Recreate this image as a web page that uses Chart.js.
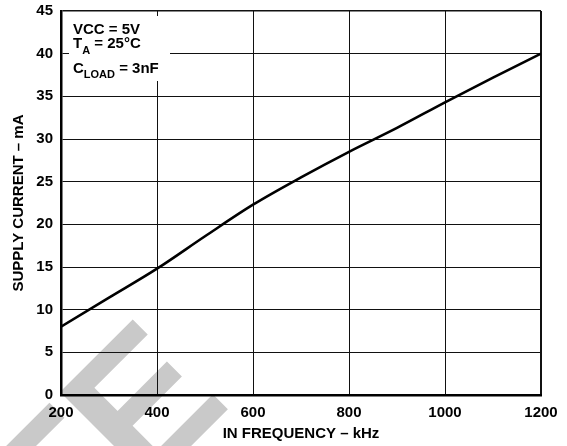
<!DOCTYPE html>
<html>
<head>
<meta charset="utf-8">
<script src="https://cdn.jsdelivr.net/npm/chart.js@4/dist/chart.umd.min.js"></script>
<style>
  html, body { margin: 0; padding: 0; background: #fff; }
  #wrap { width: 567px; height: 446px; }
</style>
</head>
<body>
<div id="wrap"><canvas id="myChart" width="567" height="446"></canvas></div>
<script>
const freqKHz = [200, 300, 400, 500, 600, 700, 800, 900, 1000, 1100, 1200];
const supplyCurrent = [8.0, 11.4, 14.8, 18.6, 22.3, 25.5, 28.5, 31.3, 34.3, 37.2, 40.0];
const xTicks = [200, 400, 600, 800, 1000, 1200];
const yTicks = [0, 5, 10, 15, 20, 25, 30, 35, 40, 45];
const watermarkText = "TE";

const FONT = "'Liberation Sans', Arial, Helvetica, sans-serif";

// big grey watermark behind the grid
const watermark = {
    id: 'watermark',
    beforeDraw(chart) {
        const ctx = chart.ctx;
        ctx.save();
        ctx.translate(233, 404);
        ctx.rotate(-Math.PI / 4);
        ctx.fillStyle = '#c9c9c9';
        ctx.font = "bold 190px " + FONT;
        ctx.textAlign = 'right';
        ctx.textBaseline = 'alphabetic';
        ctx.fillText(watermarkText, 0, 0);
        ctx.restore();
    }
};

// conditions box in the top-left corner
const conditions = {
    id: 'conditions',
    afterDraw(chart) {
        const ctx = chart.ctx;
        ctx.save();
        ctx.fillStyle = '#fff';
        ctx.fillRect(69, 16, 101, 65);
        ctx.fillStyle = '#000';
        ctx.textBaseline = 'alphabetic';
        ctx.textAlign = 'left';
        const big = "bold 15px " + FONT;
        const small = "bold 11px " + FONT;

        ctx.font = big;
        ctx.fillText("VCC = 5V", 73, 33.5);

        let x = 73;
        ctx.fillText("T", x, 48);
        x += ctx.measureText("T").width;
        ctx.font = small;
        ctx.fillText("A", x, 54);
        x += ctx.measureText("A").width;
        ctx.font = big;
        ctx.fillText(" = 25°C", x, 48);

        x = 73;
        ctx.fillText("C", x, 73);
        x += ctx.measureText("C").width;
        ctx.font = small;
        ctx.fillText("LOAD", x, 78);
        x += ctx.measureText("LOAD").width;
        ctx.font = big;
        ctx.fillText(" = 3nF", x, 73);
        ctx.restore();
    }
};

const ctx = document.getElementById('myChart').getContext('2d');
new Chart(ctx, {
    type: 'line',
    data: {
        datasets: [{
            data: freqKHz.map((f, i) => ({ x: f, y: supplyCurrent[i] })),
            borderColor: '#000',
            borderWidth: 2.6,
            pointRadius: 0,
            cubicInterpolationMode: 'monotone',
            fill: false,
        }]
    },
    options: {
        responsive: false,
        animation: false,
        events: [],
        layout: { padding: { left: 0, top: 11, right: 26, bottom: 0 } },
        plugins: {
            legend: { display: false },
            tooltip: { enabled: false },
        },
        scales: {
            x: {
                type: 'linear',
                min: 200,
                max: 1200,
                afterBuildTicks: (axis) => { axis.ticks = xTicks.map(v => ({ value: v })); },
                afterFit: (axis) => {
                    axis.height = 51;
                    axis.paddingLeft = 0;
                    axis.paddingRight = 0;
                },
                ticks: {
                    color: '#000',
                    padding: 9,
                    maxRotation: 0,
                    callback: (v) => String(v),
                    font: { family: FONT, size: 15, weight: 'bold' },
                },
                grid: {
                    color: '#111',
                    lineWidth: (c) => (c.tick && c.tick.value === 1200 ? 2 : 1),
                    drawTicks: false,
                },
                border: { color: '#000', width: 2.5 },
                title: {
                    display: true,
                    text: 'IN FREQUENCY – kHz',
                    color: '#000',
                    font: { family: FONT, size: 15, weight: 'bold' },
                    padding: { top: 0, bottom: 3 },
                },
            },
            y: {
                min: 0,
                max: 45,
                afterBuildTicks: (axis) => { axis.ticks = yTicks.map(v => ({ value: v })); },
                afterFit: (axis) => {
                    axis.width = 61;
                    axis.paddingTop = 0;
                    axis.paddingBottom = 0;
                },
                ticks: {
                    color: '#000',
                    padding: 8,
                    callback: (v) => String(v),
                    font: { family: FONT, size: 15, weight: 'bold' },
                },
                grid: {
                    color: '#111',
                    lineWidth: (c) => (c.tick && c.tick.value === 45 ? 1.5 : 1),
                    drawTicks: false,
                },
                border: { color: '#000', width: 2.5 },
                title: {
                    display: true,
                    text: 'SUPPLY CURRENT – mA',
                    color: '#000',
                    font: { family: FONT, size: 15, weight: 'bold' },
                    padding: { top: 10, bottom: 0 },
                },
            },
        },
    },
    plugins: [watermark, conditions],
});
</script>
</body>
</html>
